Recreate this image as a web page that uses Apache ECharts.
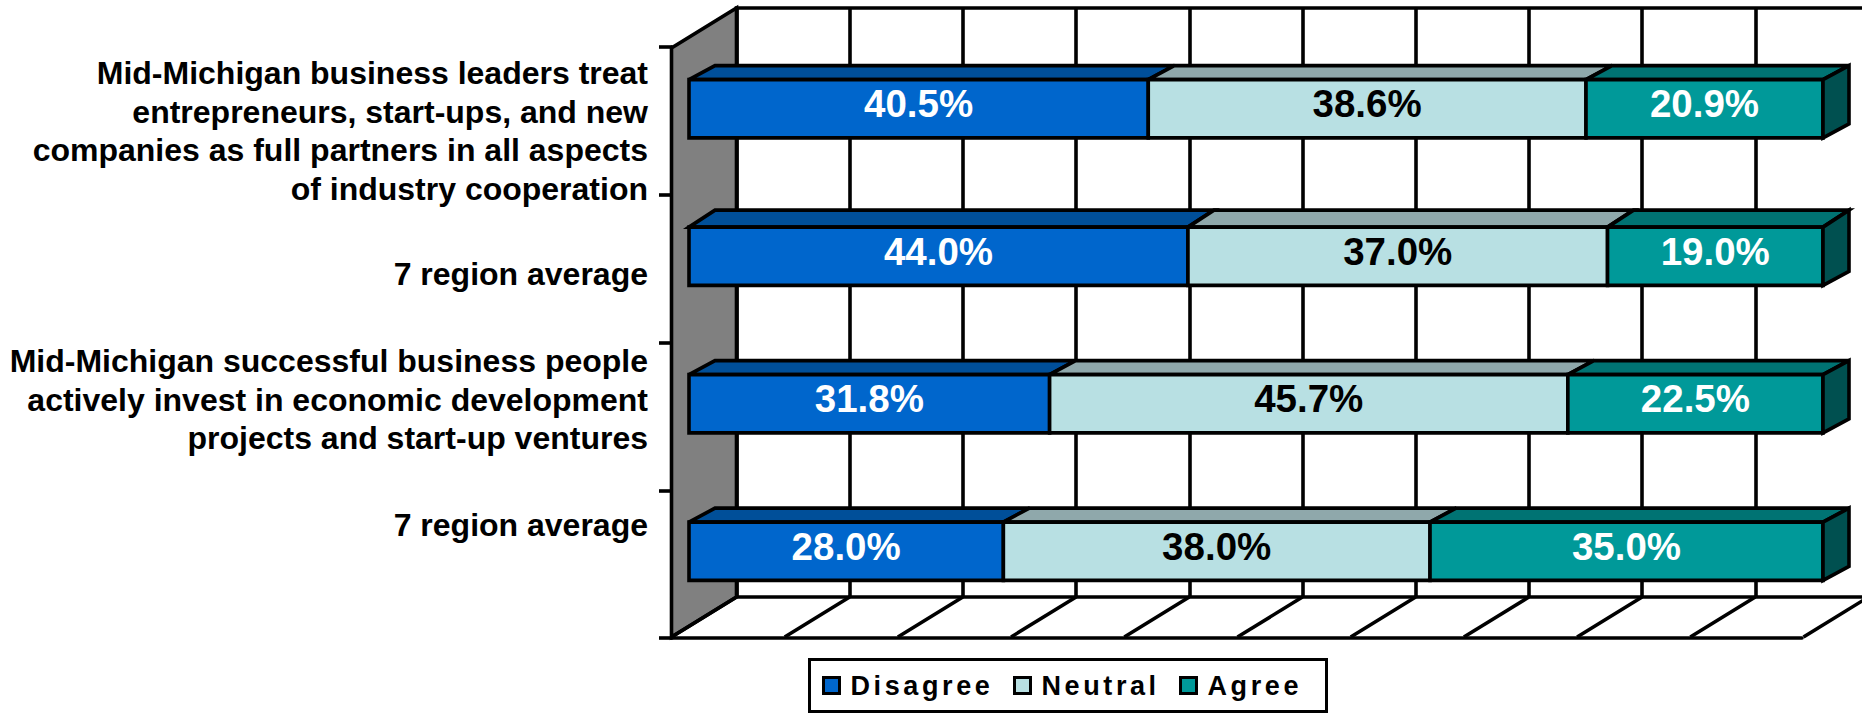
<!DOCTYPE html>
<html>
<head>
<meta charset="utf-8">
<style>
html, body { margin: 0; padding: 0; background: #fff; }
#chart { width: 1862px; height: 713px; }
/* legend text is the only 27px text, spaced out like the original */
#chart text[style*="27px"] { letter-spacing: 3.6px; }
</style>
<script src="https://cdn.jsdelivr.net/npm/echarts@6/dist/echarts.min.js"></script>
</head>
<body>
<div id="chart"></div>
<script>
const categories = [
    'Mid-Michigan business leaders treat\nentrepreneurs, start-ups, and new\ncompanies as full partners in all aspects\nof industry cooperation',
    '7 region average',
    'Mid-Michigan successful business people\nactively invest in economic development\nprojects and start-up ventures',
    '7 region average'
]
const disagree = [40.5, 44.0, 31.8, 28.0]
const neutral = [38.6, 37.0, 45.7, 38.0]
const agree = [20.9, 19.0, 22.5, 35.0]
const xTicks = [0, 10, 20, 30, 40, 50, 60, 70, 80, 90, 100]
const legendNames = ['Disagree', 'Neutral', 'Agree']

const font = '"Liberation Sans", Arial, sans-serif'
const black = '#000'
const wallDepth = [-65, 40]
const barDepthX = 26
const barDepthY = [14, 17, 14, 14]
const labelNudge = [22, 18, -4, -26]
const legendLeft = [822, 1013, 1179]
const lineW = 3.6

// the chart is 100% stacked, the labels keep the raw numbers
function rows(values, before) {
    return values.map((v, i) => {
        const sum = disagree[i] + neutral[i] + agree[i]
        const start = before.reduce((acc, arr) => acc + arr[i], 0) / sum * 100
        return [start, start + v / sum * 100, i, v]
    })
}

function barSeries(name, values, before, front, top, text, side) {
    return {
        name,
        type: 'custom',
        xAxisIndex: 2,
        yAxisIndex: 2,
        z: 5,
        itemStyle: { color: front },
        data: rows(values, before),
        renderItem(params, api) {
            const i = api.value(2)
            const h = api.size([0, 1])[1] * 0.395
            const a = api.coord([api.value(0), i])
            const b = api.coord([api.value(1), i])
            const y0 = a[1] - h / 2
            const y1 = a[1] + h / 2
            const dy = barDepthY[i]
            const line = { stroke: black, lineWidth: lineW, lineJoin: 'miter' }
            const children = [
                {
                    type: 'polygon',
                    shape: { points: [[a[0], y0], [a[0] + barDepthX, y0 - dy], [b[0] + barDepthX, y0 - dy], [b[0], y0]] },
                    style: { fill: top, ...line }
                },
                {
                    type: 'rect',
                    shape: { x: a[0], y: y0, width: b[0] - a[0], height: h },
                    style: { fill: front, ...line }
                },
                {
                    type: 'text',
                    style: {
                        text: api.value(3).toFixed(1) + '%',
                        x: (a[0] + b[0]) / 2,
                        y: a[1] - 5,
                        align: 'center',
                        verticalAlign: 'middle',
                        fill: text,
                        font: 'bold 38.5px ' + font
                    }
                }
            ]
            if (side) {
                children.push({
                    type: 'polygon',
                    shape: { points: [[b[0], y0], [b[0] + barDepthX, y0 - dy], [b[0] + barDepthX, y1 - 14], [b[0], y1]] },
                    style: { fill: side, ...line }
                })
            }
            return { type: 'group', children }
        }
    }
}

const chart = echarts.init(document.getElementById('chart'), null, { renderer: 'svg' })

chart.setOption({
    animation: false,
    backgroundColor: '#fff',
    grid: [
        // back wall, runs slightly past the right edge of the picture
        { left: 736.5, top: 8, width: 1132, height: 589, outerBoundsMode: 'none', show: true, backgroundColor: '#fff', borderColor: black, borderWidth: lineW },
        // front edge of the floor and side wall
        { left: 672, top: 47, width: 1130, height: 591, outerBoundsMode: 'none' },
        // front face of the bars
        { left: 689, top: 35, width: 1134, height: 590, outerBoundsMode: 'none' }
    ],
    xAxis: [
        {
            gridIndex: 0, type: 'value', min: 0, max: 100, interval: 10,
            axisLine: { show: false }, axisTick: { show: false }, axisLabel: { show: false },
            splitLine: { show: true, lineStyle: { color: black, width: lineW } }
        },
        {
            gridIndex: 1, type: 'value', min: 0, max: 100, interval: 10,
            axisLine: { show: true, lineStyle: { color: black, width: lineW } },
            axisTick: { show: false }, axisLabel: { show: false }, splitLine: { show: false }
        },
        { gridIndex: 2, type: 'value', min: 0, max: 100, show: false }
    ],
    yAxis: [
        { gridIndex: 0, type: 'value', min: 0, max: 1, show: false },
        {
            gridIndex: 1, type: 'category', inverse: true, data: categories,
            axisLine: { show: true, lineStyle: { color: black, width: lineW } },
            axisTick: { show: true, length: 13, lineStyle: { color: black, width: lineW } },
            axisLabel: { show: false }
        },
        { gridIndex: 2, type: 'category', inverse: true, data: categories, show: false }
    ],
    graphic: [{
        type: 'rect',
        z: 1,
        shape: { x: 809.5, y: 659.5, width: 517, height: 52 },
        style: { fill: '#fff', stroke: black, lineWidth: 3 }
    }],
    legend: legendNames.map((name, i) => ({
        data: [name],
        left: legendLeft[i],
        top: 672,
        padding: 0,
        icon: 'rect',
        itemWidth: 16,
        itemHeight: 16,
        itemGap: 0,
        selectedMode: false,
        itemStyle: { borderColor: black, borderWidth: 3 },
        textStyle: { color: black, fontFamily: font, fontWeight: 'bold', fontSize: 27, padding: [0, 0, 0, 6] }
    })),
    series: [
        {
            type: 'custom',
            name: 'wall',
            xAxisIndex: 0,
            yAxisIndex: 0,
            z: 3,
            silent: true,
            data: [[0]],
            renderItem(params, api) {
                const t = api.coord([0, 1])
                const b = api.coord([0, 0])
                return {
                    type: 'polygon',
                    shape: { points: [t, b, [b[0] + wallDepth[0], b[1] + wallDepth[1]], [t[0] + wallDepth[0], t[1] + wallDepth[1]]] },
                    style: { fill: '#808080', stroke: black, lineWidth: lineW }
                }
            }
        },
        {
            type: 'custom',
            name: 'floor',
            xAxisIndex: 0,
            yAxisIndex: 0,
            z: 3,
            silent: true,
            data: xTicks.map(v => [v]),
            renderItem(params, api) {
                const p = api.coord([api.value(0), 0])
                return {
                    type: 'line',
                    shape: { x1: p[0], y1: p[1], x2: p[0] + wallDepth[0], y2: p[1] + wallDepth[1] },
                    style: { stroke: black, lineWidth: lineW }
                }
            }
        },
        barSeries('Disagree', disagree, [], '#0066CC', '#004F99', '#fff'),
        barSeries('Neutral', neutral, [disagree], '#B8E0E3', '#8FA8AB', '#000'),
        barSeries('Agree', agree, [disagree, neutral], '#009999', '#007373', '#fff', '#005050'),
        {
            type: 'custom',
            name: 'labels',
            xAxisIndex: 2,
            yAxisIndex: 2,
            z: 6,
            silent: true,
            data: categories.map((c, i) => [0, i]),
            renderItem(params, api) {
                const i = api.value(1)
                const p = api.coord([0, i])
                return {
                    type: 'text',
                    style: {
                        text: categories[i],
                        x: p[0] - 41,
                        y: p[1] + labelNudge[i],
                        align: 'right',
                        verticalAlign: 'middle',
                        fill: black,
                        font: 'bold 32px ' + font,
                        lineHeight: 38.5
                    }
                }
            }
        }
    ]
})
</script>
</body>
</html>
